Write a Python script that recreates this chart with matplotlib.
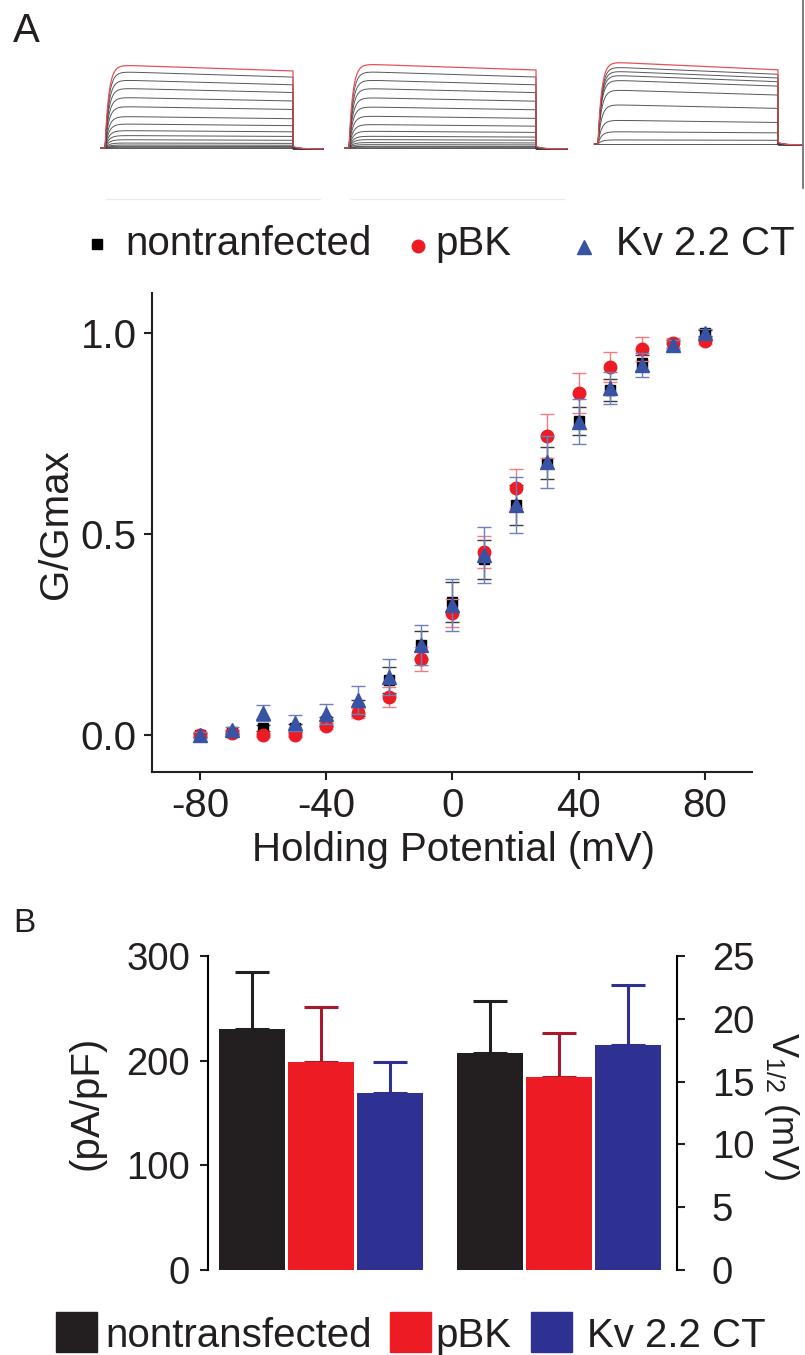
import numpy as np
import matplotlib
matplotlib.use("Agg")
import matplotlib.pyplot as plt
from matplotlib.patches import Rectangle

plt.rcParams['font.family'] = ['Liberation Sans', 'DejaVu Sans']
plt.rcParams['mathtext.fontset'] = 'custom'
plt.rcParams['mathtext.rm'] = 'Liberation Sans'
plt.rcParams['mathtext.it'] = 'Liberation Sans:italic'

# ---------------- data ----------------
# current traces (relative steady amplitudes, red = largest sweep)
trace_amps_1 = [1.0, 0.92, 0.82, 0.72, 0.61, 0.50, 0.38, 0.29, 0.21, 0.15, 0.10, 0.06, 0.036, 0.02, 0.008, 0.0]
trace_amps_2 = [1.0, 0.91, 0.81, 0.71, 0.60, 0.49, 0.38, 0.28, 0.20, 0.14, 0.10, 0.065, 0.04, 0.02, 0.008, 0.0]
trace_amps_3 = [1.0, 0.94, 0.89, 0.84, 0.78, 0.66, 0.48, 0.29, 0.15, 0.05, 0.0]
trace_sag = [0.075, 0.075, 0.10]

# G/Gmax activation curves
voltage = [-80, -70, -60, -50, -40, -30, -20, -10, 0, 10, 20, 30, 40, 50, 60, 70, 80]
nt_mean = [0.0, 0.008, 0.017, 0.017, 0.034, 0.067, 0.137, 0.224, 0.332, 0.437, 0.572, 0.677, 0.781, 0.858, 0.925, 0.973, 1.0]
nt_err = [0.005, 0.005, 0.008, 0.010, 0.012, 0.020, 0.033, 0.035, 0.050, 0.048, 0.050, 0.040, 0.035, 0.028, 0.020, 0.010, 0.008]
pbk_mean = [0.0, 0.005, 0.0, 0.0, 0.023, 0.055, 0.095, 0.189, 0.304, 0.456, 0.614, 0.744, 0.852, 0.915, 0.960, 0.976, 0.980]
pbk_err = [0.005, 0.005, 0.005, 0.005, 0.008, 0.012, 0.025, 0.030, 0.035, 0.040, 0.048, 0.054, 0.050, 0.037, 0.030, 0.012, 0.008]
kv_mean = [0.0, 0.012, 0.055, 0.030, 0.052, 0.087, 0.145, 0.224, 0.323, 0.448, 0.572, 0.680, 0.780, 0.863, 0.920, 0.970, 1.0]
kv_err = [0.008, 0.008, 0.020, 0.020, 0.025, 0.035, 0.045, 0.050, 0.065, 0.070, 0.070, 0.065, 0.057, 0.040, 0.030, 0.012, 0.010]
legend_a = ['nontranfected', 'pBK', 'Kv 2.2 CT']

# bar charts
groups = ['nontransfected', 'pBK', 'Kv 2.2 CT']
density = [230, 198.6, 169]          # pA/pF
density_err = [55, 53, 30]
vhalf = [17.3, 15.4, 17.9]           # mV
vhalf_err = [4.1, 3.5, 4.8]

bar_colors = ['#231f20', '#ed1c24', '#2e3192']
err_colors = ['#231f20', '#a6192e', '#2e3192']

# ---------------- figure ----------------
W, H = 805, 1355
fig = plt.figure(figsize=(W / 100, H / 100), dpi=100)


def box(l, t, r, b):
    return [l / W, 1 - b / H, (r - l) / W, (b - t) / H]


ov = fig.add_axes([0, 0, 1, 1])
ov.set_xlim(0, W)
ov.set_ylim(H, 0)
ov.axis('off')

# ---- traces ----
panels = [
    # step_start, step_end, tail_end, baseline_y, top_y (pixels)
    (105, 293, 323, 148, 65, trace_amps_1, trace_sag[0], True),
    (349, 536, 567, 148, 64, trace_amps_2, trace_sag[1], True),
    (598, 778, 801, 144, 62, trace_amps_3, trace_sag[2], False),
]
for (x0, x1, x2, yb, yt, amps, sag, faint) in panels:
    pxu = x1 - x0
    pyu = yb - yt
    bl, br, bt, bb = x0 - 6, x2 + 4, 50, 205
    a = fig.add_axes(box(bl, bt, br, bb))
    a.set_xlim((bl - x0) / pxu, (br - x0) / pxu)
    a.set_ylim(-(bb - yb) / pyu, (yb - bt) / pyu)
    a.axis('off')
    tend = (x2 - x0) / pxu
    t_pre = np.linspace(-0.02, 0, 5)
    t_step = np.linspace(0, 1, 400)
    t_tail = np.linspace(1, tend, 60)
    for k, amp in enumerate(amps[::-1]):
        is_red = (k == len(amps) - 1)
        i_step = amp * (1 - np.exp(-t_step / 0.02)) * (1 - sag * t_step) / (1 - sag * 0.05)
        i_tail = amp * 0.03 * np.exp(-(t_tail - 1) / 0.03) - 0.01
        tt = np.concatenate([t_pre, t_step, t_tail])
        ii = np.concatenate([np.zeros_like(t_pre), i_step, i_tail])
        a.plot(tt, ii, color='#e8505a' if is_red else '#3a3a3a',
               lw=0.9 if is_red else 0.7, alpha=1.0 if is_red else 0.85,
               zorder=3 if is_red else 2)
    if faint:
        a.axhline(-(199 - yb) / pyu, xmin=0.03, xmax=0.97, color='#ececec', lw=1)

ov.plot([803, 803], [0, 188], color='#666666', lw=1.2)

# ---- legend A ----
ov.plot(97, 244, marker='s', ms=7, color='black', ls='none')
ov.plot(418, 246, marker='o', ms=9, color='#ed1c24', ls='none')
ov.plot(584, 247, marker='^', ms=10, color='#3953a4', ls='none')
for xx, lab in zip([125, 435, 616], legend_a):
    ov.text(xx, 255, lab, fontsize=29, va='baseline', ha='left', color='#231f20')

ov.text(13, 42, 'A', fontsize=29, va='baseline', ha='left', color='#231f20')
ov.text(13, 932, 'B', fontsize=24, va='baseline', ha='left', color='#231f20')

# ---- G/Gmax scatter ----
ax = fig.add_axes(box(152, 293, 752, 772))
ax.set_xlim(-95.2, 94.9)
ax.set_ylim(-0.092, 1.10)
ax.errorbar(voltage, nt_mean, yerr=nt_err, fmt='s', ms=7.5, color='black',
            ecolor='#3c3c3c', elinewidth=1, capsize=5, capthick=1, zorder=3)
ax.errorbar(voltage, pbk_mean, yerr=pbk_err, fmt='o', ms=9, color='#ed1c24',
            ecolor='#f07c80', elinewidth=1, capsize=5, capthick=1, zorder=4)
ax.errorbar(voltage, kv_mean, yerr=kv_err, fmt='^', ms=10, color='#3953a4',
            ecolor='#6b7fc0', elinewidth=1, capsize=5, capthick=1, zorder=5)
for s in ['top', 'right']:
    ax.spines[s].set_visible(False)
for s in ['left', 'bottom']:
    ax.spines[s].set_linewidth(1.5)
    ax.spines[s].set_color('#231f20')
ax.set_xticks([-80, -40, 0, 40, 80])
ax.set_xticklabels(['-80', '-40', '0', '40', '80'])
ax.set_yticks([0, 0.5, 1.0])
ax.set_yticklabels(['0.0', '0.5', '1.0'])
ax.tick_params(direction='out', length=6, width=1.5, labelsize=29, pad=5,
               colors='#231f20')
ax.set_xlabel('Holding Potential (mV)', fontsize=29, color='#231f20')
ax.xaxis.label.set_va('baseline')
ax.xaxis.set_label_coords(0.502, -0.186)
ax.set_ylabel('G/Gmax', fontsize=29, color='#231f20')
ax.yaxis.label.set_va('center')
ax.yaxis.set_label_coords((56 - 152) / 600, (772 - 524) / 479)

# ---- bar chart ----
step = 1.0
pos1 = [i * step for i in range(3)]
pos2 = [3.45 + i * step for i in range(3)]
axb = fig.add_axes(box(208, 956, 677, 1270))
axb.set_xlim(-0.638, 6.16)
axb.set_ylim(0, 300)
axb.bar(pos1, density, width=0.95, color=bar_colors, zorder=2)
for p, v, e, c in zip(pos1, density, density_err, err_colors):
    axb.errorbar([p], [v], yerr=[[0], [e]], fmt='none', ecolor=c,
                 elinewidth=2.2, capsize=12, capthick=2.2, zorder=1)
axr = axb.twinx()
axr.set_ylim(0, 25)
axr.bar(pos2, vhalf, width=0.95, color=bar_colors, zorder=2)
for p, v, e, c in zip(pos2, vhalf, vhalf_err, err_colors):
    axr.errorbar([p], [v], yerr=[[0], [e]], fmt='none', ecolor=c,
                 elinewidth=2.2, capsize=12, capthick=2.2, zorder=1)

for s in ['top', 'right', 'bottom']:
    axb.spines[s].set_visible(False)
for s in ['top', 'left', 'bottom']:
    axr.spines[s].set_visible(False)
axb.spines['left'].set_linewidth(1.5)
axr.spines['right'].set_linewidth(1.5)
axb.set_xticks([])
axr.set_xticks([])
axb.set_yticks([0, 100, 200, 300])
axr.set_yticks([0, 5, 10, 15, 20, 25])
axb.tick_params(axis='y', direction='out', length=6, width=1.5, labelsize=27.5, pad=7,
                colors='#231f20')
axr.tick_params(axis='y', direction='out', length=6, width=1.5, labelsize=27.5, pad=19,
                colors='#231f20')
axb.set_ylabel('(pA/pF)', fontsize=29, color='#231f20')
axb.yaxis.label.set_va('center')
axb.yaxis.set_label_coords((87 - 208) / 469, (1270 - 1103) / 314)
axr.set_ylabel(r'V$_{\mathrm{1/2}}$ (mV)', fontsize=26, rotation=270, color='#231f20')
axr.yaxis.label.set_va('center')
axr.yaxis.set_label_coords((781 - 208) / 469, (1270 - 1106) / 314)

# ---- legend B ----
for xx, col in zip([56, 390, 531], bar_colors):
    ov.add_patch(Rectangle((xx, 1312), 41, 40, color=col))
for xx, lab in zip([105, 435, 587], groups):
    ov.text(xx, 1347, lab, fontsize=29, va='baseline', ha='left', color='#231f20')

fig.savefig('out.png', dpi=100)
